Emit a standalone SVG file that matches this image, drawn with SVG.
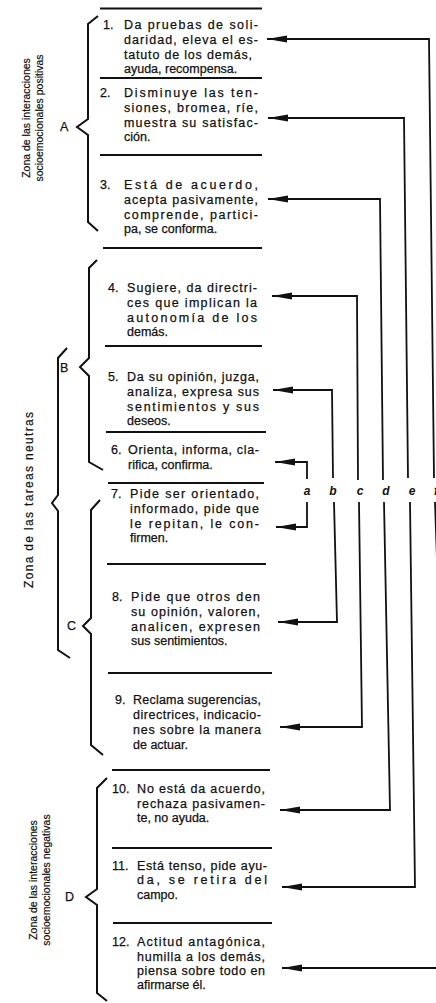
<svg xmlns="http://www.w3.org/2000/svg" width="436" height="1003" viewBox="0 0 436 1003">
<style>
.t{font-family:"Liberation Sans",Arial,Helvetica,sans-serif;font-size:12.5px;fill:#111;stroke:#111;stroke-width:0.25}
.z{font-family:"Liberation Sans",Arial,Helvetica,sans-serif;font-size:10.5px;fill:#111;stroke:#111;stroke-width:0.2;text-anchor:middle}
.zn{font-family:"Liberation Sans",Arial,Helvetica,sans-serif;font-size:12px;fill:#111;stroke:#111;stroke-width:0.2;text-anchor:middle}
.lb{font-family:"Liberation Sans",Arial,Helvetica,sans-serif;font-size:12.5px;fill:#111;stroke:#111;stroke-width:0.25}
.ll{font-family:"Liberation Sans",Arial,Helvetica,sans-serif;font-size:12px;font-style:italic;font-weight:bold;fill:#111;text-anchor:middle}
.sep{stroke:#111;stroke-width:2.2;fill:none}
.br{stroke:#111;stroke-width:2;fill:none;stroke-linejoin:miter}
.cn{stroke:#111;stroke-width:1.8;fill:none}
.ca{stroke:#111;stroke-width:1.8;fill:none;marker-end:url(#ah)}
</style>
<defs>
<marker id="ah" viewBox="0 0 20 8" refX="20" refY="4" markerWidth="20" markerHeight="8" markerUnits="userSpaceOnUse" orient="auto">
<path d="M0,0.4 L20,4 L0,7.6 Z" fill="#111"/>
</marker>
</defs>
<rect width="436" height="1003" fill="#fff"/>

<g id="separators">
<line class="sep" x1="100" y1="8.5" x2="262" y2="8.5"/>
<line class="sep" x1="100" y1="78" x2="262" y2="78"/>
<line class="sep" x1="100" y1="155" x2="262" y2="155"/>
<line class="sep" x1="103" y1="248" x2="262" y2="248"/>
<line class="sep" x1="105" y1="346" x2="262" y2="346"/>
<line class="sep" x1="106" y1="432" x2="266" y2="432"/>
<line class="sep" x1="108" y1="483" x2="264" y2="483"/>
<line class="sep" x1="107" y1="564" x2="266" y2="564"/>
<line class="sep" x1="108" y1="673" x2="272" y2="673"/>
<line class="sep" x1="112" y1="770" x2="270" y2="770"/>
<line class="sep" x1="112" y1="848" x2="272" y2="848"/>
<line class="sep" x1="113" y1="923" x2="272" y2="923"/>
</g>

<g id="zone-positive">
<text class="z" transform="translate(30,118) rotate(-90)">Zona de las interacciones</text>
<text class="z" transform="translate(43,118) rotate(-90)">socioemocionales positivas</text>
</g>
<g id="zone-neutral">
<text class="zn" transform="translate(33,500) rotate(-90)" textLength="176" lengthAdjust="spacing">Zona de las tareas neutras</text>
<path class="br" d="M67,348 L58,358 L58,495 L52,503 L58,511 L58,650 L70,658"/>
</g>
<g id="zone-negative">
<text class="z" transform="translate(37,880) rotate(-90)">Zona de las interacciones</text>
<text class="z" transform="translate(50,880) rotate(-90)">socioemocionales negativas</text>
</g>

<g id="group-A">
<path class="br" d="M98,16 L88,24 L88,119 L77,127 L88,135 L88,222 L98,231"/>
<text class="lb" x="60" y="131">A</text>
</g>
<g id="group-B">
<path class="br" d="M97,260 L89,268 L89,358 L80,367 L89,376 L89,462 L103,470"/>
<text class="lb" x="60" y="372">B</text>
</g>
<g id="group-C">
<path class="br" d="M100,500 L91,510 L91,618 L83,626 L91,634 L91,745 L103,755"/>
<text class="lb" x="67" y="630">C</text>
</g>
<g id="group-D">
<path class="br" d="M107,778 L97,788 L97,889 L86,897 L97,905 L97,993 L107,1001"/>
<text class="lb" x="65" y="901">D</text>
</g>

<g id="node-1">
<text class="t" x="103" y="29">1.</text>
<text class="t" x="124" y="29" textLength="134" lengthAdjust="spacing">Da pruebas de soli-</text>
<text class="t" x="124" y="44" textLength="134" lengthAdjust="spacing">daridad, eleva el es-</text>
<text class="t" x="124" y="58.5" textLength="128" lengthAdjust="spacing">tatuto de los demás,</text>
<text class="t" x="124" y="73">ayuda, recompensa.</text>
</g>
<g id="node-2">
<text class="t" x="100" y="97">2.</text>
<text class="t" x="124" y="97" textLength="134" lengthAdjust="spacing">Disminuye las ten-</text>
<text class="t" x="124" y="112" textLength="134" lengthAdjust="spacing">siones, bromea, ríe,</text>
<text class="t" x="124" y="127" textLength="134" lengthAdjust="spacing">muestra su satisfac-</text>
<text class="t" x="124" y="141">ción.</text>
</g>
<g id="node-3">
<text class="t" x="100" y="189">3.</text>
<text class="t" x="124" y="189" textLength="134" lengthAdjust="spacing">Está de acuerdo,</text>
<text class="t" x="124" y="204" textLength="134" lengthAdjust="spacing">acepta pasivamente,</text>
<text class="t" x="124" y="219" textLength="134" lengthAdjust="spacing">comprende, partici-</text>
<text class="t" x="124" y="233">pa, se conforma.</text>
</g>
<g id="node-4">
<text class="t" x="108" y="292">4.</text>
<text class="t" x="127" y="292" textLength="130" lengthAdjust="spacing">Sugiere, da directri-</text>
<text class="t" x="127" y="307" textLength="130" lengthAdjust="spacing">ces que implican la</text>
<text class="t" x="127" y="322" textLength="130" lengthAdjust="spacing">autonomía de los</text>
<text class="t" x="127" y="336">demás.</text>
</g>
<g id="node-5">
<text class="t" x="108" y="381">5.</text>
<text class="t" x="127" y="381" textLength="132" lengthAdjust="spacing">Da su opinión, juzga,</text>
<text class="t" x="127" y="396" textLength="132" lengthAdjust="spacing">analiza, expresa sus</text>
<text class="t" x="127" y="411" textLength="132" lengthAdjust="spacing">sentimientos y sus</text>
<text class="t" x="127" y="425">deseos.</text>
</g>
<g id="node-6">
<text class="t" x="111" y="454">6.</text>
<text class="t" x="128" y="454" textLength="131" lengthAdjust="spacing">Orienta, informa, cla-</text>
<text class="t" x="128" y="469">rifica, confirma.</text>
</g>
<g id="node-7">
<text class="t" x="111" y="498">7.</text>
<text class="t" x="130" y="498" textLength="129" lengthAdjust="spacing">Pide ser orientado,</text>
<text class="t" x="130" y="513" textLength="129" lengthAdjust="spacing">informado, pide que</text>
<text class="t" x="130" y="528" textLength="129" lengthAdjust="spacing">le repitan, le con-</text>
<text class="t" x="130" y="542">firmen.</text>
</g>
<g id="node-8">
<text class="t" x="112" y="601">8.</text>
<text class="t" x="131" y="601" textLength="129" lengthAdjust="spacing">Pide que otros den</text>
<text class="t" x="131" y="616" textLength="129" lengthAdjust="spacing">su opinión, valoren,</text>
<text class="t" x="131" y="631" textLength="129" lengthAdjust="spacing">analicen, expresen</text>
<text class="t" x="131" y="645">sus sentimientos.</text>
</g>
<g id="node-9">
<text class="t" x="115" y="704">9.</text>
<text class="t" x="133" y="704" textLength="128" lengthAdjust="spacing">Reclama sugerencias,</text>
<text class="t" x="133" y="719" textLength="128" lengthAdjust="spacing">directrices, indicacio-</text>
<text class="t" x="133" y="734" textLength="128" lengthAdjust="spacing">nes sobre la manera</text>
<text class="t" x="133" y="749">de actuar.</text>
</g>
<g id="node-10">
<text class="t" x="112" y="793">10.</text>
<text class="t" x="137" y="793" textLength="128" lengthAdjust="spacing">No está da acuerdo,</text>
<text class="t" x="137" y="808" textLength="128" lengthAdjust="spacing">rechaza pasivamen-</text>
<text class="t" x="137" y="822">te, no ayuda.</text>
</g>
<g id="node-11">
<text class="t" x="112" y="870">11.</text>
<text class="t" x="137" y="870" textLength="130" lengthAdjust="spacing">Está tenso, pide ayu-</text>
<text class="t" x="137" y="884" textLength="130" lengthAdjust="spacing">da, se retira del</text>
<text class="t" x="137" y="899">campo.</text>
</g>
<g id="node-12">
<text class="t" x="112" y="946">12.</text>
<text class="t" x="137" y="946" textLength="128" lengthAdjust="spacing">Actitud antagónica,</text>
<text class="t" x="137" y="961" textLength="128" lengthAdjust="spacing">humilla a los demás,</text>
<text class="t" x="137" y="975" textLength="128" lengthAdjust="spacing">piensa sobre todo en</text>
<text class="t" x="137" y="989">afirmarse él.</text>
</g>

<g id="connectors">
<path class="ca" d="M307,479 L307,462 L275,462"/>
<path class="ca" d="M307,502 L307,527 L276,527"/>
<path class="ca" d="M333,478 L332,390 L273,390"/>
<path class="ca" d="M334,502 L337,622 L278,622"/>
<path class="ca" d="M358,480 L357,296 L272,296"/>
<path class="ca" d="M359,502 L362,727 L280,727"/>
<path class="ca" d="M383,480 L380,199 L268,199"/>
<path class="ca" d="M384,502 L390,810 L280,810"/>
<path class="ca" d="M408,478 L404,118 L268,118"/>
<path class="ca" d="M410,502 L415,887 L282,887"/>
<path class="ca" d="M434,478 L429,39 L267,39"/>
<path class="cn" d="M435,502 L437,560"/>
<path class="ca" d="M437,968 L282,968"/>
<text class="ll" x="307" y="495">a</text>
<text class="ll" x="333" y="495">b</text>
<text class="ll" x="360" y="495">c</text>
<text class="ll" x="386" y="495">d</text>
<text class="ll" x="412" y="495">e</text>
<text class="ll" x="436" y="495">f</text>
</g>
</svg>
